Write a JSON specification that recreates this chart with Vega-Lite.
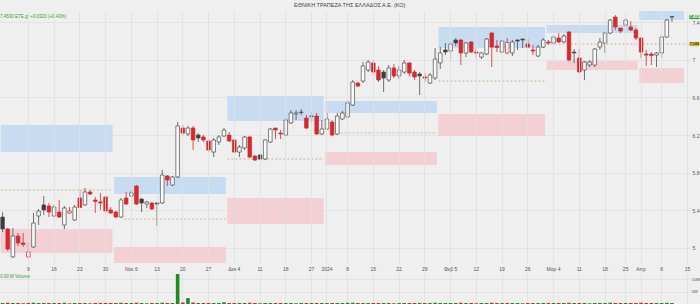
{
"$schema": "https://vega.github.io/schema/vega-lite/v6.json",
"background": "#efefef",
"padding": {"top": 2, "left": 0, "right": 0, "bottom": 0},
"config": {"font": "Liberation Sans", "view": {"stroke": null}},
"title": {"text": "ΕΘΝΙΚΗ ΤΡΑΠΕΖΑ ΤΗΣ ΕΛΛΑΔΟΣ Α.Ε. (ΚΟ)", "fontSize": 5.5, "fontWeight": "normal", "color": "#444444", "anchor": "middle", "offset": 3},
"spacing": 1,
"datasets": {
"p": [
{"d":"2023-10-02","o":5.329,"h":5.382,"l":5.169,"c":5.202,"v":0.4},
{"d":"2023-10-03","o":5.202,"h":5.212,"l":4.968,"c":4.989,"v":0.5},
{"d":"2023-10-04","o":4.905,"h":5.212,"l":4.894,"c":5.127,"v":0.4},
{"d":"2023-10-05","o":5.127,"h":5.159,"l":5.021,"c":5.053,"v":0.4},
{"d":"2023-10-06","o":5.053,"h":5.159,"l":5.011,"c":5.037,"v":0.3},
{"d":"2023-10-09","o":4.905,"h":5.064,"l":4.894,"c":4.958,"v":0.4},
{"d":"2023-10-10","o":5.011,"h":5.372,"l":5.000,"c":5.265,"v":0.5},
{"d":"2023-10-11","o":5.340,"h":5.414,"l":5.244,"c":5.393,"v":0.4},
{"d":"2023-10-12","o":5.457,"h":5.552,"l":5.350,"c":5.404,"v":0.4},
{"d":"2023-10-13","o":5.446,"h":5.478,"l":5.329,"c":5.382,"v":0.4},
{"d":"2023-10-16","o":5.340,"h":5.457,"l":5.329,"c":5.435,"v":0.4},
{"d":"2023-10-17","o":5.382,"h":5.510,"l":5.319,"c":5.329,"v":0.4},
{"d":"2023-10-18","o":5.244,"h":5.446,"l":5.202,"c":5.425,"v":0.5},
{"d":"2023-10-19","o":5.372,"h":5.435,"l":5.361,"c":5.393,"v":0.3},
{"d":"2023-10-20","o":5.297,"h":5.457,"l":5.287,"c":5.435,"v":0.4},
{"d":"2023-10-23","o":5.531,"h":5.616,"l":5.425,"c":5.430,"v":0.4},
{"d":"2023-10-24","o":5.457,"h":5.637,"l":5.446,"c":5.595,"v":0.4},
{"d":"2023-10-25","o":5.595,"h":5.616,"l":5.563,"c":5.573,"v":0.3},
{"d":"2023-10-26","o":5.510,"h":5.542,"l":5.372,"c":5.494,"v":0.4},
{"d":"2023-10-27","o":5.489,"h":5.584,"l":5.404,"c":5.478,"v":0.4},
{"d":"2023-10-30","o":5.542,"h":5.552,"l":5.382,"c":5.393,"v":0.4},
{"d":"2023-10-31","o":5.404,"h":5.435,"l":5.361,"c":5.372,"v":0.4},
{"d":"2023-11-01","o":5.382,"h":5.393,"l":5.319,"c":5.329,"v":0.4},
{"d":"2023-11-02","o":5.329,"h":5.531,"l":5.319,"c":5.510,"v":0.5},
{"d":"2023-11-03","o":5.531,"h":5.595,"l":5.457,"c":5.467,"v":0.4},
{"d":"2023-11-06","o":5.552,"h":5.616,"l":5.542,"c":5.584,"v":0.4},
{"d":"2023-11-07","o":5.658,"h":5.669,"l":5.457,"c":5.467,"v":0.5},
{"d":"2023-11-08","o":5.520,"h":5.531,"l":5.382,"c":5.478,"v":0.4},
{"d":"2023-11-09","o":5.467,"h":5.499,"l":5.425,"c":5.489,"v":0.3},
{"d":"2023-11-10","o":5.478,"h":5.489,"l":5.404,"c":5.414,"v":0.4},
{"d":"2023-11-13","o":5.478,"h":5.489,"l":5.234,"c":5.467,"v":0.4},
{"d":"2023-11-14","o":5.478,"h":5.828,"l":5.467,"c":5.775,"v":0.5},
{"d":"2023-11-15","o":5.765,"h":5.775,"l":5.658,"c":5.722,"v":0.4},
{"d":"2023-11-16","o":5.669,"h":5.765,"l":5.658,"c":5.754,"v":0.4},
{"d":"2023-11-17","o":5.754,"h":6.338,"l":5.743,"c":6.296,"v":12.2},
{"d":"2023-11-20","o":6.274,"h":6.306,"l":6.200,"c":6.221,"v":0.6},
{"d":"2023-11-21","o":6.211,"h":6.296,"l":6.189,"c":6.274,"v":2.4},
{"d":"2023-11-22","o":6.274,"h":6.296,"l":6.041,"c":6.147,"v":0.6},
{"d":"2023-11-23","o":6.200,"h":6.221,"l":6.126,"c":6.168,"v":0.4},
{"d":"2023-11-24","o":6.179,"h":6.200,"l":6.126,"c":6.147,"v":0.4},
{"d":"2023-11-27","o":6.136,"h":6.157,"l":6.019,"c":6.041,"v":0.4},
{"d":"2023-11-28","o":6.019,"h":6.168,"l":5.966,"c":6.147,"v":0.4},
{"d":"2023-11-29","o":6.126,"h":6.200,"l":6.094,"c":6.179,"v":0.4},
{"d":"2023-11-30","o":6.189,"h":6.274,"l":6.179,"c":6.253,"v":0.7},
{"d":"2023-12-01","o":6.200,"h":6.232,"l":6.126,"c":6.136,"v":0.4},
{"d":"2023-12-04","o":6.147,"h":6.157,"l":6.009,"c":6.019,"v":0.4},
{"d":"2023-12-05","o":6.019,"h":6.094,"l":5.966,"c":6.073,"v":0.4},
{"d":"2023-12-06","o":6.062,"h":6.189,"l":6.041,"c":6.179,"v":0.4},
{"d":"2023-12-07","o":6.179,"h":6.189,"l":5.956,"c":5.966,"v":0.5},
{"d":"2023-12-08","o":5.977,"h":5.988,"l":5.924,"c":5.934,"v":0.4},
{"d":"2023-12-11","o":5.988,"h":5.998,"l":5.934,"c":5.945,"v":0.3},
{"d":"2023-12-12","o":5.945,"h":6.157,"l":5.934,"c":6.147,"v":0.4},
{"d":"2023-12-13","o":6.126,"h":6.274,"l":6.115,"c":6.264,"v":0.4},
{"d":"2023-12-14","o":6.274,"h":6.274,"l":6.157,"c":6.253,"v":0.4},
{"d":"2023-12-15","o":6.221,"h":6.253,"l":6.157,"c":6.211,"v":0.4},
{"d":"2023-12-18","o":6.200,"h":6.380,"l":6.189,"c":6.359,"v":0.4},
{"d":"2023-12-19","o":6.327,"h":6.465,"l":6.317,"c":6.434,"v":0.4},
{"d":"2023-12-20","o":6.423,"h":6.465,"l":6.359,"c":6.434,"v":0.3},
{"d":"2023-12-21","o":6.444,"h":6.476,"l":6.412,"c":6.439,"v":0.4},
{"d":"2023-12-22","o":6.380,"h":6.412,"l":6.264,"c":6.274,"v":0.4},
{"d":"2023-12-27","o":6.396,"h":6.444,"l":6.327,"c":6.402,"v":0.4},
{"d":"2023-12-28","o":6.402,"h":6.434,"l":6.200,"c":6.211,"v":0.4},
{"d":"2023-12-29","o":6.211,"h":6.359,"l":6.200,"c":6.264,"v":0.4},
{"d":"2024-01-02","o":6.264,"h":6.434,"l":6.253,"c":6.370,"v":0.4},
{"d":"2024-01-03","o":6.338,"h":6.359,"l":6.189,"c":6.200,"v":0.4},
{"d":"2024-01-04","o":6.211,"h":6.434,"l":6.200,"c":6.402,"v":0.4},
{"d":"2024-01-05","o":6.370,"h":6.455,"l":6.359,"c":6.434,"v":0.4},
{"d":"2024-01-08","o":6.391,"h":6.572,"l":6.380,"c":6.540,"v":0.5},
{"d":"2024-01-09","o":6.518,"h":6.784,"l":6.508,"c":6.763,"v":0.5},
{"d":"2024-01-10","o":6.752,"h":6.763,"l":6.710,"c":6.720,"v":0.4},
{"d":"2024-01-11","o":6.773,"h":6.975,"l":6.752,"c":6.933,"v":0.4},
{"d":"2024-01-12","o":6.890,"h":6.996,"l":6.869,"c":6.975,"v":0.4},
{"d":"2024-01-15","o":6.965,"h":6.996,"l":6.837,"c":6.869,"v":0.4},
{"d":"2024-01-16","o":6.890,"h":6.933,"l":6.763,"c":6.784,"v":0.4},
{"d":"2024-01-17","o":6.869,"h":6.890,"l":6.657,"c":6.805,"v":0.4},
{"d":"2024-01-18","o":6.784,"h":6.943,"l":6.763,"c":6.912,"v":0.4},
{"d":"2024-01-19","o":6.912,"h":6.954,"l":6.805,"c":6.827,"v":0.3},
{"d":"2024-01-22","o":6.827,"h":6.933,"l":6.795,"c":6.890,"v":0.4},
{"d":"2024-01-23","o":6.869,"h":6.996,"l":6.848,"c":6.965,"v":0.4},
{"d":"2024-01-24","o":6.965,"h":6.975,"l":6.827,"c":6.858,"v":0.4},
{"d":"2024-01-25","o":6.869,"h":6.890,"l":6.784,"c":6.816,"v":0.4},
{"d":"2024-01-26","o":6.848,"h":6.869,"l":6.625,"c":6.827,"v":0.4},
{"d":"2024-01-29","o":6.816,"h":6.858,"l":6.763,"c":6.805,"v":0.4},
{"d":"2024-01-30","o":6.752,"h":6.858,"l":6.742,"c":6.837,"v":0.4},
{"d":"2024-01-31","o":6.805,"h":7.124,"l":6.784,"c":7.007,"v":0.5},
{"d":"2024-02-01","o":6.965,"h":7.134,"l":6.901,"c":7.071,"v":0.4},
{"d":"2024-02-02","o":7.103,"h":7.177,"l":7.049,"c":7.081,"v":0.4},
{"d":"2024-02-05","o":7.092,"h":7.188,"l":7.007,"c":7.166,"v":0.4},
{"d":"2024-02-06","o":7.209,"h":7.230,"l":7.145,"c":7.177,"v":0.4},
{"d":"2024-02-07","o":7.209,"h":7.219,"l":6.943,"c":7.071,"v":0.5},
{"d":"2024-02-08","o":7.071,"h":7.188,"l":7.028,"c":7.177,"v":0.4},
{"d":"2024-02-09","o":7.188,"h":7.198,"l":7.071,"c":7.081,"v":0.4},
{"d":"2024-02-12","o":7.081,"h":7.124,"l":7.018,"c":7.071,"v":0.3},
{"d":"2024-02-13","o":7.028,"h":7.081,"l":7.007,"c":7.071,"v":0.4},
{"d":"2024-02-14","o":7.060,"h":7.230,"l":7.049,"c":7.219,"v":0.4},
{"d":"2024-02-15","o":7.283,"h":7.294,"l":6.922,"c":7.134,"v":0.5},
{"d":"2024-02-16","o":7.145,"h":7.209,"l":7.081,"c":7.129,"v":0.4},
{"d":"2024-02-19","o":7.081,"h":7.209,"l":7.071,"c":7.198,"v":0.4},
{"d":"2024-02-20","o":7.071,"h":7.230,"l":7.060,"c":7.182,"v":0.4},
{"d":"2024-02-21","o":7.071,"h":7.209,"l":7.039,"c":7.188,"v":0.4},
{"d":"2024-02-22","o":7.209,"h":7.214,"l":7.103,"c":7.198,"v":0.4},
{"d":"2024-02-23","o":7.219,"h":7.225,"l":7.124,"c":7.209,"v":0.3},
{"d":"2024-02-26","o":7.166,"h":7.219,"l":7.124,"c":7.134,"v":0.4},
{"d":"2024-02-27","o":7.103,"h":7.156,"l":7.049,"c":7.092,"v":0.4},
{"d":"2024-02-28","o":7.039,"h":7.156,"l":7.028,"c":7.134,"v":0.4},
{"d":"2024-02-29","o":7.134,"h":7.230,"l":7.124,"c":7.209,"v":0.4},
{"d":"2024-03-01","o":7.188,"h":7.209,"l":7.156,"c":7.177,"v":0.4},
{"d":"2024-03-04","o":7.177,"h":7.262,"l":7.166,"c":7.241,"v":0.4},
{"d":"2024-03-05","o":7.230,"h":7.283,"l":7.177,"c":7.188,"v":0.4},
{"d":"2024-03-06","o":7.188,"h":7.273,"l":7.177,"c":7.251,"v":0.4},
{"d":"2024-03-07","o":7.294,"h":7.304,"l":6.986,"c":6.996,"v":0.5},
{"d":"2024-03-08","o":7.081,"h":7.113,"l":6.965,"c":7.071,"v":0.4},
{"d":"2024-03-11","o":7.018,"h":7.113,"l":6.858,"c":6.869,"v":0.4},
{"d":"2024-03-12","o":6.890,"h":6.986,"l":6.784,"c":6.975,"v":0.4},
{"d":"2024-03-13","o":6.943,"h":6.996,"l":6.922,"c":6.975,"v":0.3},
{"d":"2024-03-14","o":6.943,"h":7.124,"l":6.922,"c":7.113,"v":0.4},
{"d":"2024-03-15","o":7.134,"h":7.230,"l":7.103,"c":7.188,"v":0.4},
{"d":"2024-03-19","o":7.177,"h":7.294,"l":7.071,"c":7.283,"v":0.4},
{"d":"2024-03-20","o":7.283,"h":7.432,"l":7.273,"c":7.421,"v":0.5},
{"d":"2024-03-21","o":7.453,"h":7.474,"l":7.315,"c":7.347,"v":0.4},
{"d":"2024-03-22","o":7.336,"h":7.336,"l":7.283,"c":7.304,"v":0.4},
{"d":"2024-03-26","o":7.368,"h":7.442,"l":7.347,"c":7.421,"v":0.4},
{"d":"2024-03-27","o":7.347,"h":7.410,"l":7.304,"c":7.315,"v":0.4},
{"d":"2024-03-28","o":7.315,"h":7.336,"l":7.209,"c":7.230,"v":0.4},
{"d":"2024-04-02","o":7.230,"h":7.241,"l":7.018,"c":7.081,"v":0.5},
{"d":"2024-04-03","o":7.060,"h":7.103,"l":6.933,"c":7.049,"v":0.4},
{"d":"2024-04-04","o":7.060,"h":7.081,"l":6.943,"c":7.044,"v":0.4},
{"d":"2024-04-05","o":7.049,"h":7.081,"l":6.922,"c":7.071,"v":0.4},
{"d":"2024-04-08","o":7.071,"h":7.251,"l":7.018,"c":7.241,"v":0.4},
{"d":"2024-04-09","o":7.241,"h":7.432,"l":7.230,"c":7.421,"v":0.5},
{"d":"2024-04-10","o":7.458,"h":7.464,"l":7.400,"c":7.453,"v":0.4}
],
"z": [
{"s":"2023-10-02","e":"2023-10-31","bl":6.019,"bh":6.306,"rl":4.947,"rh":5.202},
{"s":"2023-11-01","e":"2023-11-30","bl":5.573,"bh":5.754,"rl":4.841,"rh":5.011},
{"s":"2023-12-01","e":"2023-12-29","bl":6.349,"bh":6.614,"rl":5.255,"rh":5.531},
{"s":"2024-01-02","e":"2024-01-31","bl":6.434,"bh":6.561,"rl":5.881,"rh":6.019},
{"s":"2024-02-01","e":"2024-02-29","bl":7.124,"bh":7.347,"rl":6.189,"rh":6.423},
{"s":"2024-03-01","e":"2024-03-28","bl":7.283,"bh":7.368,"rl":6.890,"rh":6.986},
{"s":"2024-04-02","e":"2024-04-12","bl":7.421,"bh":7.517,"rl":6.752,"rh":6.911}
],
"lv": [
{"s":"2023-10-02","e":"2023-10-31","v":5.616},
{"s":"2023-11-03","e":"2023-11-30","v":5.308},
{"s":"2023-12-01","e":"2023-12-29","v":5.945},
{"s":"2024-01-05","e":"2024-01-31","v":6.221},
{"s":"2024-02-01","e":"2024-02-29","v":6.773},
{"s":"2024-03-01","e":"2024-04-15","v":7.166}
],
"tags": [
{"d":"2024-04-15","v":7.453,"t":"7.453","k":"last"},
{"d":"2024-04-15","v":7.166,"t":"7.166","k":"level"}
]
},
"vconcat": [
{
"width": 690, "height": 253,
"title": {"text": "7.4530 ETE.gr  +0.0320 (+0.43%)", "anchor": "start", "fontSize": 4.5, "color": "#3a9a3a", "offset": -7, "fontWeight": "normal"},
"layer": [
{"data": {"name": "z"}, "mark": {"type": "rect", "color": "#c7dbf1"},
 "encoding": {
  "x": {"field": "s", "type": "ordinal", "bandPosition": 0, "title": null,
   "scale": {"domain": ["2023-10-02","2023-10-03","2023-10-04","2023-10-05","2023-10-06","2023-10-09","2023-10-10","2023-10-11","2023-10-12","2023-10-13","2023-10-16","2023-10-17","2023-10-18","2023-10-19","2023-10-20","2023-10-23","2023-10-24","2023-10-25","2023-10-26","2023-10-27","2023-10-30","2023-10-31","2023-11-01","2023-11-02","2023-11-03","2023-11-06","2023-11-07","2023-11-08","2023-11-09","2023-11-10","2023-11-13","2023-11-14","2023-11-15","2023-11-16","2023-11-17","2023-11-20","2023-11-21","2023-11-22","2023-11-23","2023-11-24","2023-11-27","2023-11-28","2023-11-29","2023-11-30","2023-12-01","2023-12-04","2023-12-05","2023-12-06","2023-12-07","2023-12-08","2023-12-11","2023-12-12","2023-12-13","2023-12-14","2023-12-15","2023-12-18","2023-12-19","2023-12-20","2023-12-21","2023-12-22","2023-12-27","2023-12-28","2023-12-29","2024-01-02","2024-01-03","2024-01-04","2024-01-05","2024-01-08","2024-01-09","2024-01-10","2024-01-11","2024-01-12","2024-01-15","2024-01-16","2024-01-17","2024-01-18","2024-01-19","2024-01-22","2024-01-23","2024-01-24","2024-01-25","2024-01-26","2024-01-29","2024-01-30","2024-01-31","2024-02-01","2024-02-02","2024-02-05","2024-02-06","2024-02-07","2024-02-08","2024-02-09","2024-02-12","2024-02-13","2024-02-14","2024-02-15","2024-02-16","2024-02-19","2024-02-20","2024-02-21","2024-02-22","2024-02-23","2024-02-26","2024-02-27","2024-02-28","2024-02-29","2024-03-01","2024-03-04","2024-03-05","2024-03-06","2024-03-07","2024-03-08","2024-03-11","2024-03-12","2024-03-13","2024-03-14","2024-03-15","2024-03-19","2024-03-20","2024-03-21","2024-03-22","2024-03-26","2024-03-27","2024-03-28","2024-04-02","2024-04-03","2024-04-04","2024-04-05","2024-04-08","2024-04-09","2024-04-10","2024-04-11","2024-04-12","2024-04-15"], "paddingInner": 0.3, "paddingOuter": 0.15},
   "axis": {"values": ["2023-10-09","2023-10-16","2023-10-23","2023-10-30","2023-11-06","2023-11-13","2023-11-20","2023-11-27","2023-12-04","2023-12-11","2023-12-18","2023-12-27","2024-01-02","2024-01-08","2024-01-15","2024-01-22","2024-01-29","2024-02-05","2024-02-12","2024-02-19","2024-02-26","2024-03-04","2024-03-11","2024-03-19","2024-03-26","2024-04-02","2024-04-08","2024-04-15"],
    "labelExpr": "datum.value == '2023-11-06' ? 'Νοε 6' : datum.value == '2023-12-04' ? 'Δεκ 4' : datum.value == '2024-01-02' ? '2024' : datum.value == '2024-02-05' ? 'Φεβ 5' : datum.value == '2024-03-04' ? 'Μαρ 4' : datum.value == '2024-04-02' ? 'Απρ' : datum.value == '2024-03-19' ? '18' : datum.value == '2024-03-26' ? '25' : '' + toNumber(slice(datum.value, 8))",
    "labelAngle": 0, "labelFontSize": 5, "labelColor": "#555555", "ticks": false, "domain": false, "labelPadding": 2, "labelOverlap": false, "grid": true, "gridColor": "#e0e0e0", "gridWidth": 0.8}},
  "x2": {"field": "e", "bandPosition": 1},
  "y": {"field": "bl", "type": "quantitative", "title": null,
   "scale": {"domain": [4.83, 7.517], "nice": false, "zero": false},
   "axis": {"orient": "right", "values": [5, 5.2, 5.4, 5.6, 5.8, 6, 6.2, 6.4, 6.6, 6.8, 7, 7.2, 7.4], "format": ".1~f", "labelFontSize": 5, "labelColor": "#555555", "ticks": false, "domain": false, "labelPadding": 2, "grid": true, "gridColor": "#e0e0e0", "gridWidth": 0.8}},
  "y2": {"field": "bh"}
 }},
{"data": {"name": "z"}, "mark": {"type": "rect", "color": "#f3d0d4"},
 "encoding": {
  "x": {"field": "s", "type": "ordinal", "bandPosition": 0},
  "x2": {"field": "e", "bandPosition": 1},
  "y": {"field": "rl", "type": "quantitative"},
  "y2": {"field": "rh"}
 }},
{"data": {"name": "lv"}, "mark": {"type": "rule", "color": "#b3a26a", "strokeDash": [2, 2], "strokeWidth": 0.7},
 "encoding": {
  "x": {"field": "s", "type": "ordinal", "bandPosition": 0},
  "x2": {"field": "e", "bandPosition": 1},
  "y": {"field": "v", "type": "quantitative"}
 }},
{"data": {"name": "p"},
 "transform": [{"window": [{"op": "lag", "field": "c", "as": "pc"}], "sort": [{"field": "d", "order": "ascending"}]}],
 "mark": {"type": "rule", "strokeWidth": 0.8},
 "encoding": {
  "x": {"field": "d", "type": "ordinal"},
  "y": {"field": "l", "type": "quantitative"},
  "y2": {"field": "h"},
  "color": {"condition": {"test": "datum.pc != null && datum.c < datum.pc", "value": "#d42a2f"}, "value": "#4d4d4d"}
 }},
{"data": {"name": "p"},
 "transform": [{"window": [{"op": "lag", "field": "c", "as": "pc"}], "sort": [{"field": "d", "order": "ascending"}]}],
 "mark": {"type": "bar", "strokeWidth": 0.7},
 "encoding": {
  "x": {"field": "d", "type": "ordinal"},
  "y": {"field": "o", "type": "quantitative"},
  "y2": {"field": "c"},
  "fill": {"condition": [{"test": "datum.c >= datum.o", "value": "#fafafa"}, {"test": "datum.pc != null && datum.c < datum.pc", "value": "#d42a2f"}], "value": "#3a3a3a"},
  "stroke": {"condition": {"test": "datum.pc != null && datum.c < datum.pc", "value": "#d42a2f"}, "value": "#4d4d4d"}
 }},
{"data": {"name": "tags"},
 "mark": {"type": "point", "shape": "M-1,-0.42H1V0.42H-1Z", "filled": true, "size": 100, "xOffset": 7, "opacity": 1},
 "encoding": {
  "x": {"field": "d", "type": "ordinal"},
  "y": {"field": "v", "type": "quantitative"},
  "color": {"condition": {"test": "datum.k == 'last'", "value": "#2f9e3a"}, "value": "#c9b046"}
 }},
{"data": {"name": "tags"},
 "mark": {"type": "text", "fontSize": 3.8, "dx": 7, "align": "center", "baseline": "middle", "fontWeight": "bold"},
 "encoding": {
  "x": {"field": "d", "type": "ordinal"},
  "y": {"field": "v", "type": "quantitative"},
  "text": {"field": "t"},
  "color": {"condition": {"test": "datum.k == 'last'", "value": "#ffffff"}, "value": "#4a3d00"}
 }}
]
},
{
"width": 690, "height": 32,
"title": {"text": "0.00 M Volume", "anchor": "start", "fontSize": 4.5, "color": "#3a9a3a", "offset": -6, "fontWeight": "normal"},
"data": {"name": "p"},
"transform": [{"window": [{"op": "lag", "field": "c", "as": "pc"}], "sort": [{"field": "d", "order": "ascending"}]}],
"mark": {"type": "bar"},
"encoding": {
 "x": {"field": "d", "type": "ordinal", "title": null,
  "scale": {"domain": ["2023-10-02","2023-10-03","2023-10-04","2023-10-05","2023-10-06","2023-10-09","2023-10-10","2023-10-11","2023-10-12","2023-10-13","2023-10-16","2023-10-17","2023-10-18","2023-10-19","2023-10-20","2023-10-23","2023-10-24","2023-10-25","2023-10-26","2023-10-27","2023-10-30","2023-10-31","2023-11-01","2023-11-02","2023-11-03","2023-11-06","2023-11-07","2023-11-08","2023-11-09","2023-11-10","2023-11-13","2023-11-14","2023-11-15","2023-11-16","2023-11-17","2023-11-20","2023-11-21","2023-11-22","2023-11-23","2023-11-24","2023-11-27","2023-11-28","2023-11-29","2023-11-30","2023-12-01","2023-12-04","2023-12-05","2023-12-06","2023-12-07","2023-12-08","2023-12-11","2023-12-12","2023-12-13","2023-12-14","2023-12-15","2023-12-18","2023-12-19","2023-12-20","2023-12-21","2023-12-22","2023-12-27","2023-12-28","2023-12-29","2024-01-02","2024-01-03","2024-01-04","2024-01-05","2024-01-08","2024-01-09","2024-01-10","2024-01-11","2024-01-12","2024-01-15","2024-01-16","2024-01-17","2024-01-18","2024-01-19","2024-01-22","2024-01-23","2024-01-24","2024-01-25","2024-01-26","2024-01-29","2024-01-30","2024-01-31","2024-02-01","2024-02-02","2024-02-05","2024-02-06","2024-02-07","2024-02-08","2024-02-09","2024-02-12","2024-02-13","2024-02-14","2024-02-15","2024-02-16","2024-02-19","2024-02-20","2024-02-21","2024-02-22","2024-02-23","2024-02-26","2024-02-27","2024-02-28","2024-02-29","2024-03-01","2024-03-04","2024-03-05","2024-03-06","2024-03-07","2024-03-08","2024-03-11","2024-03-12","2024-03-13","2024-03-14","2024-03-15","2024-03-19","2024-03-20","2024-03-21","2024-03-22","2024-03-26","2024-03-27","2024-03-28","2024-04-02","2024-04-03","2024-04-04","2024-04-05","2024-04-08","2024-04-09","2024-04-10","2024-04-11","2024-04-12","2024-04-15"], "paddingInner": 0.3, "paddingOuter": 0.15},
  "axis": {"values": ["2023-10-09","2023-10-16","2023-10-23","2023-10-30","2023-11-06","2023-11-13","2023-11-20","2023-11-27","2023-12-04","2023-12-11","2023-12-18","2023-12-27","2024-01-02","2024-01-08","2024-01-15","2024-01-22","2024-01-29","2024-02-05","2024-02-12","2024-02-19","2024-02-26","2024-03-04","2024-03-11","2024-03-19","2024-03-26","2024-04-02","2024-04-08","2024-04-15"], "labels": false, "ticks": false, "domain": false, "grid": true, "gridColor": "#e0e0e0", "gridWidth": 0.8}},
 "y": {"field": "v", "type": "quantitative", "title": null,
  "scale": {"domain": [0, 13], "nice": false},
  "axis": {"orient": "right", "values": [5, 10], "labelExpr": "datum.value + 'M'", "labelFontSize": 4.3, "labelColor": "#555555", "ticks": false, "domain": false, "labelPadding": 1, "grid": true, "gridColor": "#e0e0e0", "gridWidth": 0.8}},
 "color": {"condition": {"test": "datum.pc == null || datum.c >= datum.pc", "value": "#1e8c1e"}, "value": "#d42a2f"}
}
}
]
}
